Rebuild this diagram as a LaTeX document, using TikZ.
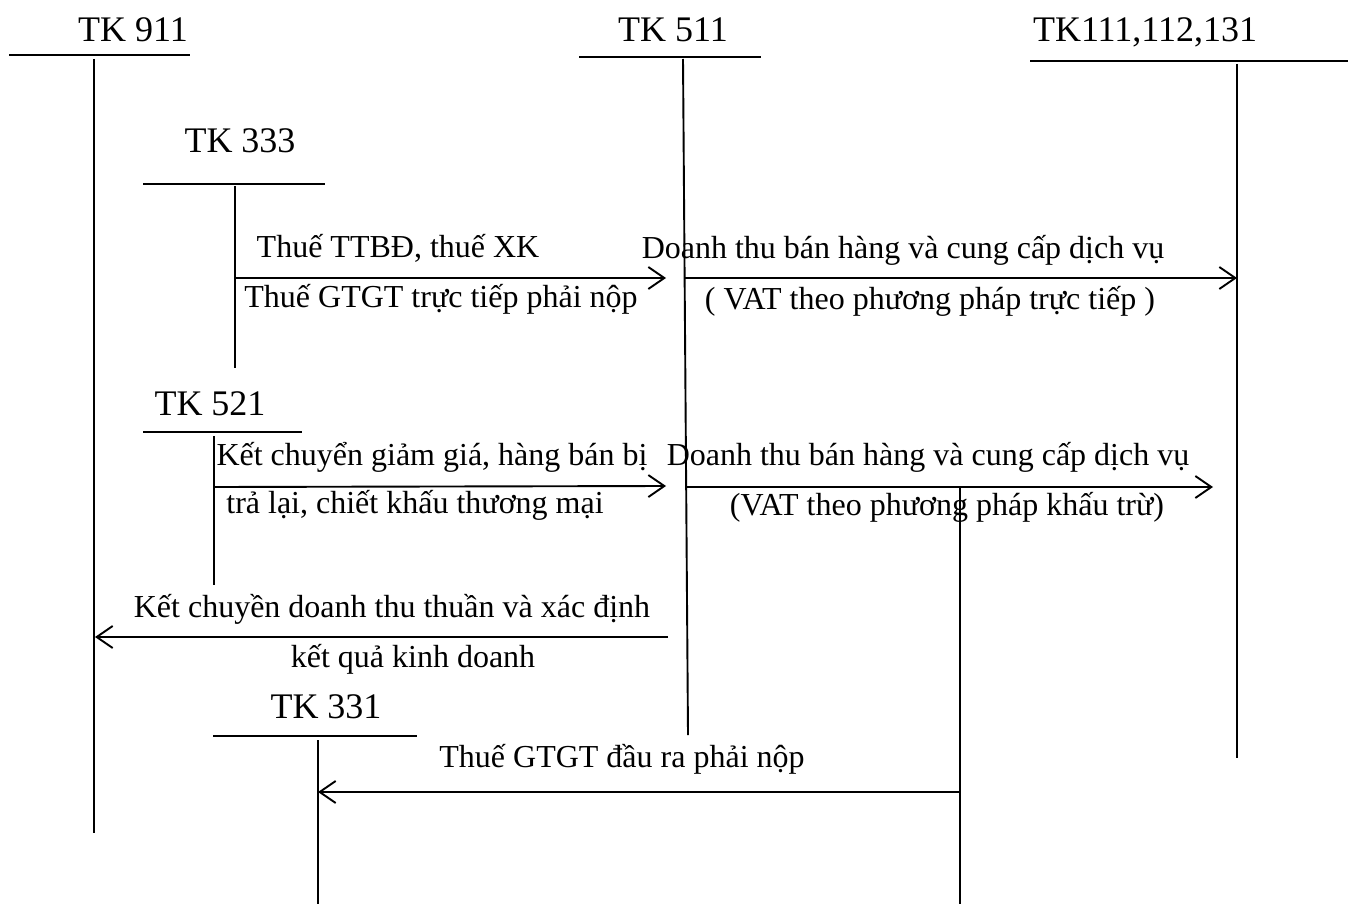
\documentclass[tikz,border=0pt]{standalone}
\usepackage{fontspec}
\setmainfont{Liberation Serif}
\usetikzlibrary{arrows.meta}
\begin{document}
\begin{tikzpicture}[x=1pt,y=-1pt,
  ln/.style={line width=1.9pt},
  arr/.style={line width=1.9pt,-{Straight Barb[length=16pt,width=22pt,line width=1.9pt]}},
  ttl/.style={inner sep=0pt,anchor=base,font=\fontsize{36}{40}\selectfont},
  lbl/.style={inner sep=0pt,anchor=base,font=\fontsize{32}{36}\selectfont}]
\useasboundingbox (0,0) rectangle (1348,904);
% titles
\node[ttl] (t911) at (133,42) {TK 911};
\node[ttl] (t511) at (673,42) {TK 511};
\node[ttl] (t111) at (1145,42) {TK111,112,131};
\node[ttl] (t333) at (240,153) {TK 333};
\node[ttl] (t521) at (210,415) {TK 521};
\node[ttl] (t331) at (326,718) {TK 331};
% account coordinates
\coordinate (h911a) at (9,55);   \coordinate (h911b) at (190,55);
\coordinate (v911a) at (94,59);  \coordinate (v911b) at (94,833);
\coordinate (h511a) at (579,57); \coordinate (h511b) at (761,57);
\coordinate (v511a) at (683,59); \coordinate (v511b) at (688,735);
\coordinate (h111a) at (1030,61); \coordinate (h111b) at (1348,61);
\coordinate (v111a) at (1237,64); \coordinate (v111b) at (1237,758);
\coordinate (h333a) at (143,184); \coordinate (h333b) at (325,184);
\coordinate (v333a) at (235,186); \coordinate (v333b) at (235,368);
\coordinate (h521a) at (143,432); \coordinate (h521b) at (302,432);
\coordinate (v521a) at (214,436); \coordinate (v521b) at (214,585);
\coordinate (h331a) at (213,736); \coordinate (h331b) at (417,736);
\coordinate (v331a) at (318,740); \coordinate (v331b) at (318,904);
\coordinate (vdeda) at (960,487); \coordinate (vdedb) at (960,904);
% T accounts
\draw[ln] (h911a) -- (h911b); \draw[ln] (v911a) -- (v911b);
\draw[ln] (h511a) -- (h511b); \draw[ln] (v511a) -- (v511b);
\draw[ln] (h111a) -- (h111b); \draw[ln] (v111a) -- (v111b);
\draw[ln] (h333a) -- (h333b); \draw[ln] (v333a) -- (v333b);
\draw[ln] (h521a) -- (h521b); \draw[ln] (v521a) -- (v521b);
\draw[ln] (h331a) -- (h331b); \draw[ln] (v331a) -- (v331b);
\draw[ln] (vdeda) -- (vdedb);
% arrows
\coordinate (a1s) at (235,278);  \coordinate (a1e) at (666,278);
\coordinate (a2s) at (684,278);  \coordinate (a2e) at (1237,278);
\coordinate (a3s) at (214,487);  \coordinate (a3e) at (666,486);
\coordinate (a4s) at (687,487);  \coordinate (a4e) at (1213,487);
\coordinate (a5s) at (668,637);  \coordinate (a5e) at (95,637);
\coordinate (a6s) at (960,792);  \coordinate (a6e) at (318,792);
\draw[arr] (a1s) -- (a1e);
\draw[arr] (a2s) -- (a2e);
\draw[arr] (a3s) -- (a3e);
\draw[arr] (a4s) -- (a4e);
\draw[arr] (a5s) -- (a5e);
\draw[arr] (a6s) -- (a6e);
% labels
\node[lbl] (l1) at (398,257) {Thuế TTBĐ, thuế XK};
\node[lbl] (l2) at (441,307) {Thuế GTGT trực tiếp phải nộp};
\node[lbl] (l3) at (903,258) {Doanh thu bán hàng và cung cấp dịch vụ};
\node[lbl] (l4) at (930,309) {( VAT theo phương pháp trực tiếp )};
\node[lbl] (l5) at (432,465) {Kết chuyển giảm giá, hàng bán bị};
\node[lbl] (l6) at (415,513) {trả lại, chiết khấu thương mại};
\node[lbl] (l7) at (928,465) {Doanh thu bán hàng và cung cấp dịch vụ};
\node[lbl] (l8) at (947,515) {(VAT theo phương pháp khấu trừ)};
\node[lbl] (l9) at (392,617) {Kết chuyền doanh thu thuần và xác định};
\node[lbl] (l10) at (413,667) {kết quả kinh doanh};
\node[lbl] (l11) at (622,767) {Thuế GTGT đầu ra phải nộp};
\end{tikzpicture}
\end{document}
